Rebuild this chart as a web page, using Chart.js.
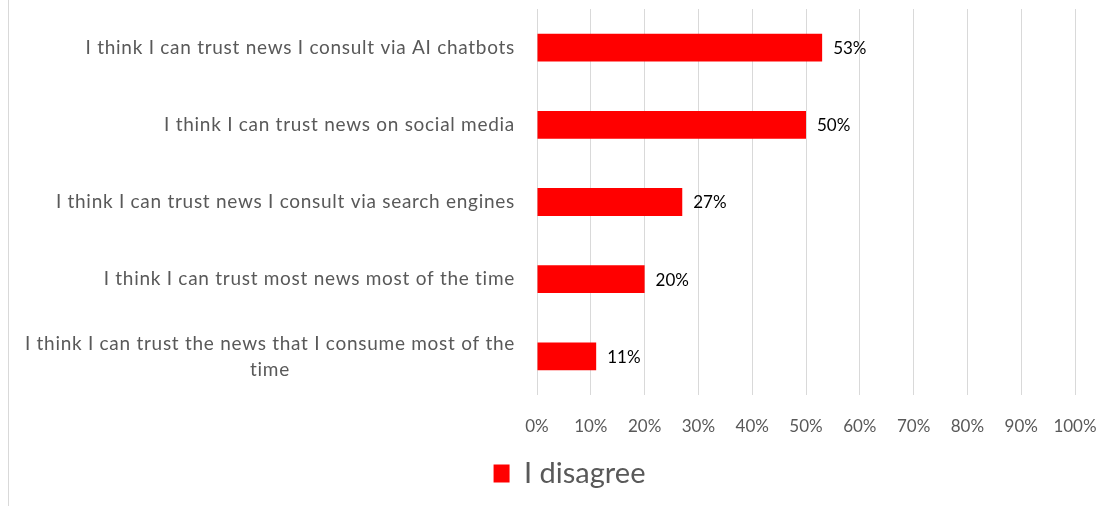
<!DOCTYPE html>
<html>
<head>
<meta charset="utf-8">
<title>Trust in news – I disagree</title>
<script src="https://cdn.jsdelivr.net/npm/chart.js@4/dist/chart.umd.min.js"></script>
<style>
  html, body { margin: 0; padding: 0; background: #ffffff; }
  #wrap { position: relative; width: 1114px; height: 506px; }
</style>
</head>
<body>
<div id="wrap"><canvas id="chart"></canvas></div>
<script>
// Statements, top to bottom (a statement split in two lines is given as two parts)
const categories = [
  ['I think I can trust news I consult via AI chatbots'],
  ['I think I can trust news on social media'],
  ['I think I can trust news I consult via search engines'],
  ['I think I can trust most news most of the time'],
  ['I think I can trust the news that I consume most of the', 'time']
];

// Share of respondents who disagree, in %
const disagreeValues = [53, 50, 27, 20, 11];
const seriesName = 'I disagree';

// Horizontal axis tick labels, one per 10 %
const xTickLabels = ['0%', '10%', '20%', '30%', '40%', '50%', '60%', '70%', '80%', '90%', '100%'];

const FONT_FAMILY = 'Lato, "Open Sans", sans-serif';
const GREY_TEXT = '#595959';
const GRID = '#d9d9d9';
const BAR_RED = '#ff0000';

const CAT_FONT_SIZE = 19;
const CAT_LETTER_SPACING = '0.72px';
const CAT_LINE_HEIGHT = 26;
const CAT_GAP = 22;

// Left frame line of the chart area
const frameLine = {
  id: 'frameLine',
  beforeDraw(chart) {
    const { ctx, height } = chart;
    ctx.save();
    ctx.strokeStyle = GRID;
    ctx.lineWidth = 1;
    ctx.beginPath();
    ctx.moveTo(8.5, 0);
    ctx.lineTo(8.5, height);
    ctx.stroke();
    ctx.restore();
  }
};

// Category names: right-aligned next to the axis, wrapped names centred on their widest line
const categoryLabels = {
  id: 'categoryLabels',
  afterDraw(chart) {
    const { ctx, chartArea, scales: { y } } = chart;
    ctx.save();
    ctx.font = CAT_FONT_SIZE + 'px ' + FONT_FAMILY;
    if ('letterSpacing' in ctx) ctx.letterSpacing = CAT_LETTER_SPACING;
    ctx.fillStyle = GREY_TEXT;
    ctx.textBaseline = 'middle';
    const right = chartArea.left - CAT_GAP;
    categories.forEach((lines, i) => {
      const yc = y.getPixelForValue(i);
      const maxW = Math.max(...lines.map(l => ctx.measureText(l).width));
      lines.forEach((line, j) => {
        const yy = yc + (j - (lines.length - 1) / 2) * CAT_LINE_HEIGHT;
        if (lines.length === 1) {
          ctx.textAlign = 'right';
          ctx.fillText(line, right, yy);
        } else {
          ctx.textAlign = 'center';
          ctx.fillText(line, right - maxW / 2, yy);
        }
      });
    });
    ctx.restore();
  }
};

// Value labels at the end of each bar
const valueLabels = {
  id: 'valueLabels',
  afterDatasetsDraw(chart) {
    const { ctx } = chart;
    const meta = chart.getDatasetMeta(0);
    ctx.save();
    ctx.font = '17px ' + FONT_FAMILY;
    ctx.fillStyle = '#000000';
    ctx.textAlign = 'left';
    ctx.textBaseline = 'middle';
    meta.data.forEach((bar, i) => {
      ctx.fillText(disagreeValues[i] + '%', bar.x + 11, bar.y + 1);
    });
    ctx.restore();
  }
};

new Chart(document.getElementById('chart'), {
  type: 'bar',
  data: {
    labels: categories.map(c => c.join(' ')),
    datasets: [{
      label: seriesName,
      data: disagreeValues,
      backgroundColor: BAR_RED,
      borderWidth: 0,
      categoryPercentage: 1,
      barPercentage: 0.36
    }]
  },
  options: {
    indexAxis: 'y',
    responsive: true,
    maintainAspectRatio: false,
    animation: false,
    layout: { padding: { top: 9, left: 64, right: 39, bottom: 8 } },
    scales: {
      x: {
        min: 0,
        max: 100,
        border: { display: false },
        grid: { color: GRID, lineWidth: 1, drawTicks: false },
        ticks: {
          stepSize: 10,
          padding: 21,
          color: GREY_TEXT,
          font: { family: FONT_FAMILY, size: 17 },
          callback: (v) => xTickLabels[Math.round(v / 10)]
        },
        // fixed band for the tick labels between the bars and the legend;
        // the end labels may overhang into the outer padding
        afterFit(scale) {
          scale.height = 54;
          scale.paddingLeft = 0;
          scale.paddingRight = 0;
        }
      },
      y: {
        border: { display: false },
        grid: { display: false, drawTicks: false },
        ticks: { display: false },
        afterFit(scale) { scale.width = 473; }
      }
    },
    plugins: {
      legend: {
        position: 'bottom',
        labels: {
          boxWidth: 16,
          boxHeight: 18,
          padding: 10,
          color: GREY_TEXT,
          font: { family: FONT_FAMILY, size: 29 }
        }
      },
      tooltip: { enabled: false }
    }
  },
  plugins: [frameLine, categoryLabels, valueLabels]
});
</script>
</body>
</html>
